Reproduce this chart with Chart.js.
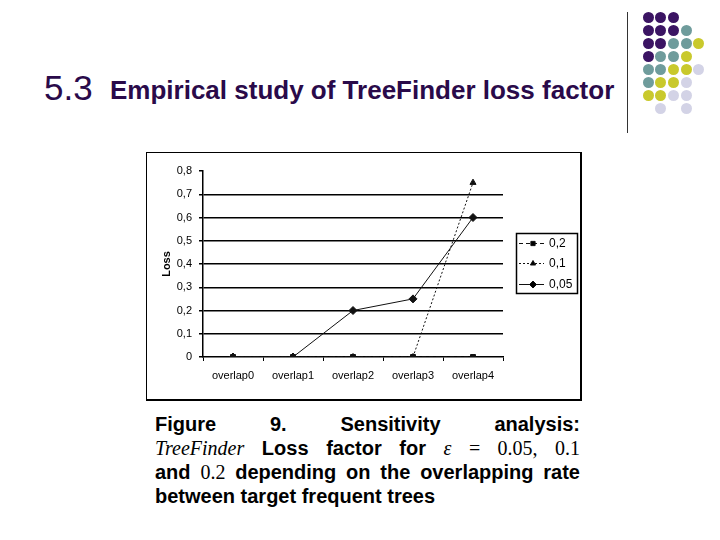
<!DOCTYPE html>
<html>
<head>
<meta charset="utf-8">
<script src="https://cdn.jsdelivr.net/npm/chart.js@4/dist/chart.umd.min.js"></script>
<style>
  html, body { margin: 0; padding: 0; background: #fff; }
  body { width: 720px; height: 540px; position: relative; overflow: hidden; font-family: "Liberation Sans", Arial, sans-serif; }
  #t53 { position: absolute; left: 44px; top: 68px; font-size: 35px; color: #2a0a4a; line-height: 40px; }
  #ttl { position: absolute; left: 110px; top: 75px; font-size: 26px; font-weight: bold; color: #2a0a4a; line-height: 30px; white-space: nowrap; }
  #vline { position: absolute; left: 627px; top: 12px; width: 1px; height: 121px; background: #333; }
  .dot { position: absolute; width: 11px; height: 11px; border-radius: 50%; }
  #frame { position: absolute; left: 146px; top: 152px; width: 433px; height: 246px; border-left: 1px solid #000; border-top: 1px solid #000; border-right: 2px solid #000; border-bottom: 2px solid #000; }
  #cv { position: absolute; left: 147px; top: 153px; }
  #cap { position: absolute; left: 155px; top: 412px; width: 425px; font-size: 20px; font-weight: bold; color: #000; line-height: 24px; }
  #cap .ln { text-align: justify; text-align-last: justify; white-space: nowrap; }
  #cap .ln.last { text-align-last: left; }
  .m { font-family: "Liberation Serif", "DejaVu Serif", serif; font-weight: normal; }
  .mi { font-family: "Liberation Serif", "DejaVu Serif", serif; font-weight: normal; font-style: italic; }
</style>
</head>
<body>
<div id="t53">5.3</div>
<div id="ttl">Empirical study of TreeFinder loss factor</div>
<div id="vline"></div>
<div id="dots"></div>
<div id="frame"></div>
<canvas id="cv" width="432" height="245"></canvas>
<div id="cap">
  <div class="ln">Figure 9. Sensitivity analysis:</div>
  <div class="ln"><span class="mi">TreeFinder</span> Loss factor for <span class="mi">ε</span> <span class="m">= 0.05,</span> <span class="m">0.1</span></div>
  <div class="ln">and <span class="m">0.2</span> depending on the overlapping rate</div>
  <div class="ln last">between target frequent trees</div>
</div>
<script>
// ---- data ----
const categories = ["overlap0", "overlap1", "overlap2", "overlap3", "overlap4"];
const seriesNames = ["0,2", "0,1", "0,05"];
const loss02 = [0, 0, 0, 0, 0];
const loss01 = [0, 0, 0, 0, 0.75];
const loss005 = [0, 0, 0.2, 0.25, 0.6];
const yTicks = [0, 0.1, 0.2, 0.3, 0.4, 0.5, 0.6, 0.7, 0.8];

// ---- decorative dots ----
const P = "#3b1463", T = "#6f9c9c", Y = "#c9c92c", L = "#d3d3e6";
const dotRows = [
  [P, P, P],
  [P, P, P, T],
  [P, P, T, T, Y],
  [P, T, T, Y],
  [T, T, Y, Y, L],
  [T, Y, Y, L],
  [Y, Y, L, L],
  [null, L, null, L]
];
const dotsEl = document.getElementById('dots');
dotRows.forEach((row, i) => row.forEach((c, j) => {
  if (!c) return;
  const d = document.createElement('div');
  d.className = 'dot';
  d.style.background = c;
  d.style.left = (648 + 12.7 * j - 5.5) + 'px';
  d.style.top = (17 + 13 * i - 5.5) + 'px';
  dotsEl.appendChild(d);
}));

// ---- chart ----
const ink = '#111';
const datasets = [
  { label: seriesNames[0], data: loss02, borderColor: ink, backgroundColor: ink, borderWidth: 1, borderDash: [4, 3], pointStyle: 'rect', pointRadius: 3.5, order: 3 },
  { label: seriesNames[1], data: loss01, borderColor: ink, backgroundColor: ink, borderWidth: 1, borderDash: [2, 2], pointStyle: 'triangle', pointRadius: 3.5, order: 2 },
  { label: seriesNames[2], data: loss005, borderColor: ink, backgroundColor: ink, borderWidth: 1, pointStyle: 'rectRot', pointRadius: 4, order: 1 }
];

const legendPlugin = {
  id: 'boxLegend',
  afterDraw(chart) {
    const ctx = chart.ctx;
    const x0 = 369, y0 = 80, w = 61, h = 60;
    ctx.save();
    ctx.strokeStyle = '#000';
    ctx.lineWidth = 1.5;
    ctx.strokeRect(x0 + 0.5, y0 + 0.5, w, h);
    const rowsY = [90, 110, 131];
    chart.data.datasets.forEach((ds, i) => {
      const y = rowsY[i];
      ctx.strokeStyle = ds.borderColor;
      ctx.lineWidth = 1;
      ctx.setLineDash(ds.borderDash || []);
      ctx.beginPath();
      ctx.moveTo(x0 + 3, y + 0.5);
      ctx.lineTo(x0 + 28, y + 0.5);
      ctx.stroke();
      ctx.setLineDash([]);
      Chart.helpers.drawPoint(ctx, { pointStyle: ds.pointStyle, radius: ds.pointRadius - 0.5, rotation: 0, borderWidth: 1 }, x0 + 17, y + 0.5);
      ctx.fillStyle = '#000';
      ctx.font = '12px "Liberation Sans", Arial, sans-serif';
      ctx.textBaseline = 'middle';
      ctx.textAlign = 'left';
      ctx.fillText(ds.label, x0 + 33, y + 1);
    });
    ctx.restore();
  }
};

new Chart(document.getElementById('cv'), {
  type: 'line',
  data: { labels: categories, datasets },
  plugins: [legendPlugin],
  options: {
    responsive: false,
    animation: false,
    devicePixelRatio: 1,
    layout: { padding: { left: 0, top: 18, right: 76, bottom: 0 } },
    plugins: { legend: { display: false }, tooltip: { enabled: false } },
    elements: { line: { tension: 0 } },
    scales: {
      x: {
        type: 'category',
        offset: true,
        afterFit(s) { s.height = 41; },
        grid: { offset: true, drawOnChartArea: false, tickLength: 4, tickColor: '#000', color: '#000' },
        border: { color: '#000', width: 1.5 },
        ticks: { color: '#000', padding: 8, font: { family: '"Liberation Sans", Arial, sans-serif', size: 11 } }
      },
      y: {
        min: 0, max: 0.8,
        afterFit(s) { s.width = 56; },
        afterBuildTicks(s) { s.ticks = yTicks.map(v => ({ value: v })); },
        grid: {
          color: (c) => (c.tick && (c.tick.value === 0 || c.tick.value >= 0.8)) ? 'rgba(0,0,0,0)' : '#000',
          tickColor: '#000', tickLength: 4, lineWidth: 1.5
        },
        border: { color: '#000', width: 1.5 },
        ticks: {
          color: '#000', padding: 7,
          font: { family: '"Liberation Sans", Arial, sans-serif', size: 11 },
          callback: (v) => v === 0 ? '0' : v.toFixed(1).replace('.', ',')
        },
        title: { display: true, text: 'Loss', color: '#000', padding: { top: 13, bottom: 0 }, font: { family: '"Liberation Sans", Arial, sans-serif', size: 11, weight: 'bold' } }
      }
    }
  }
});
</script>
</body>
</html>
